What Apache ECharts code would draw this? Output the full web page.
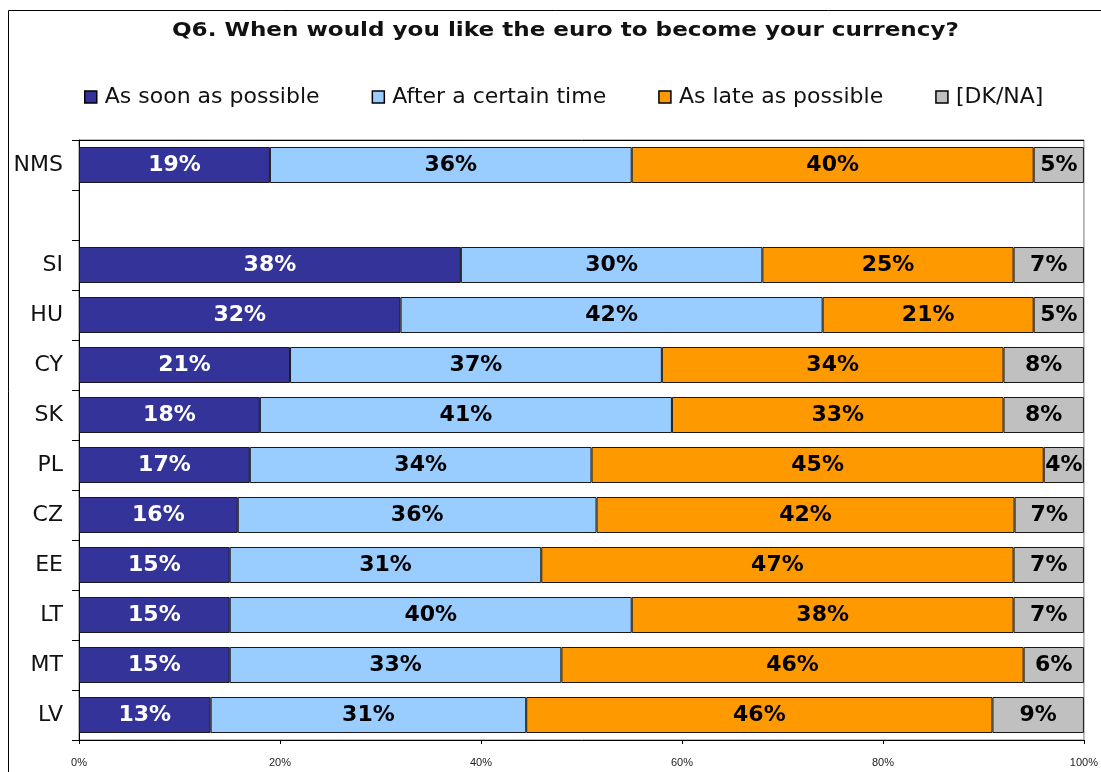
<!DOCTYPE html>
<html>
<head>
<meta charset="utf-8">
<title>Q6. When would you like the euro to become your currency?</title>
<script src="https://cdn.jsdelivr.net/npm/echarts@6/dist/echarts.min.js"></script>
<style>
  html, body { margin: 0; padding: 0; background: #fff; }
  #chart { width: 1101px; height: 772px; }
</style>
</head>
<body>
<div id="chart"></div>
<script>
// Countries, top to bottom (blank row separates the NMS total)
const categories = ['NMS', '', 'SI', 'HU', 'CY', 'SK', 'PL', 'CZ', 'EE', 'LT', 'MT', 'LV'];

// Shares of respondents (%)
const asSoonAsPossible   = [19, null, 38, 32, 21, 18, 17, 15.8, 15, 15, 15, 13.1];
const afterCertainTime   = [36, null, 30, 42, 37, 41, 34, 35.7, 31, 40, 33, 31.4];
const asLateAsPossible   = [40, null, 25, 21, 34, 33, 45, 41.6, 47, 38, 46, 46.4];
const dontKnow           = [5,  null, 7,  5,  8,  8,  4,  6.9,  7,  7,  6,  9.1];

const seriesNames = ['As soon as possible', 'After a certain time', 'As late as possible', '[DK/NA]'];
const seriesColors = ['#333399', '#99CCFF', '#FF9900', '#C0C0C0'];
const labelColors = ['#ffffff', '#000000', '#000000', '#000000'];

const chartTitle = 'Q6. When would you like the euro to become your currency?';

const chart = echarts.init(document.getElementById('chart'), null, { renderer: 'canvas' });

const makeSeries = (name, data, i) => ({
  name: name,
  type: 'bar',
  stack: 'total',
  data: data,
  barWidth: 36,
  itemStyle: { color: seriesColors[i], borderColor: '#1a1a1a', borderWidth: 1 },
  label: {
    show: true,
    position: 'inside',
    color: labelColors[i],
    fontFamily: 'DejaVu Sans',
    fontWeight: 'bold',
    fontSize: 22,
    formatter: p => (p.value == null ? '' : Math.round(p.value) + '%')
  },
  emphasis: { disabled: true },
  animation: false
});

chart.setOption({
  animation: false,
  backgroundColor: '#ffffff',
  legend: {
    top: 81,
    left: 79,
    itemWidth: 12,
    itemHeight: 12,
    itemGap: 52,
    icon: 'rect',
    itemStyle: { borderColor: '#000', borderWidth: 1.5 },
    textStyle: { fontFamily: 'DejaVu Sans', fontSize: 22, color: '#111', padding: [0, 0, 0, 3] },
    data: seriesNames
  },
  grid: {
    left: 79,
    top: 140,
    right: 17,
    bottom: 32,
    show: true,
    borderColor: '#777',
    borderWidth: 1,
    containLabel: false
  },
  xAxis: {
    type: 'value',
    min: 0,
    max: 100,
    interval: 20,
    axisLine: { show: true, lineStyle: { color: '#000', width: 1 } },
    axisTick: { show: true, length: 4, lineStyle: { color: '#000' } },
    splitLine: { show: false },
    axisLabel: {
      formatter: '{value}%',
      fontFamily: 'Liberation Sans',
      fontSize: 11,
      color: '#222',
      margin: 17
    }
  },
  yAxis: {
    type: 'category',
    inverse: true,
    data: categories,
    axisLine: { show: true, lineStyle: { color: '#000', width: 1 } },
    axisTick: { show: true, length: 7, lineStyle: { color: '#000' } },
    axisLabel: {
      fontFamily: 'DejaVu Sans',
      fontSize: 22,
      color: '#111',
      margin: 16
    }
  },
  graphic: [
    {
      type: 'rect',
      silent: true,
      shape: { x: 8.5, y: 10.5, width: 1200, height: 900 },
      style: { fill: null, stroke: '#000', lineWidth: 1 }
    },
    {
      type: 'line',
      silent: true,
      z: 10,
      shape: { x1: 79, y1: 140.5, x2: 1084, y2: 140.5 },
      style: { stroke: '#000', lineWidth: 1 }
    },
    {
      // chart heading, widened to the wide-set lettering of the original layout
      type: 'text',
      silent: true,
      x: 172,
      y: 31,
      scaleX: 1.154,
      style: {
        text: chartTitle,
        x: 0,
        y: 0,
        fill: '#111',
        font: 'bold 20px "DejaVu Sans"',
        textVerticalAlign: 'middle'
      }
    }
  ],
  series: [
    makeSeries(seriesNames[0], asSoonAsPossible, 0),
    makeSeries(seriesNames[1], afterCertainTime, 1),
    makeSeries(seriesNames[2], asLateAsPossible, 2),
    makeSeries(seriesNames[3], dontKnow, 3)
  ]
});
</script>
</body>
</html>
